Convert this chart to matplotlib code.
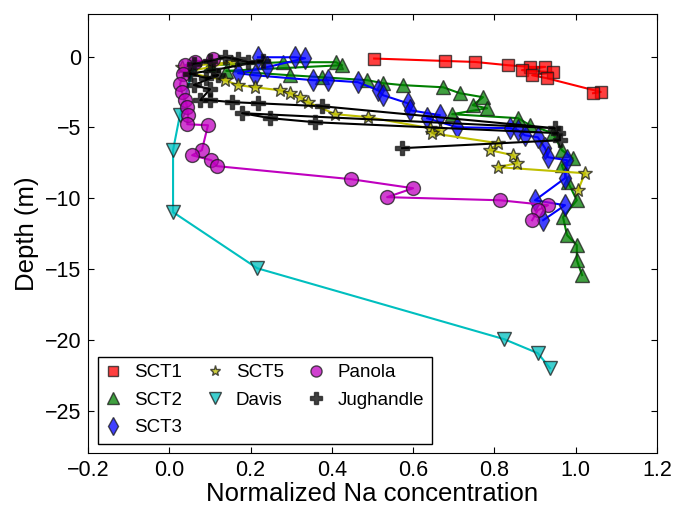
# -*- coding: utf-8 -*-
import numpy as np
import matplotlib
matplotlib.use('Agg')
import matplotlib.pyplot as plt
from matplotlib.lines import Line2D

# normalized Na vs depth, one profile per site
sct1_x = [0.504, 0.678, 0.752, 0.833, 0.888, 0.925, 0.868, 0.944, 0.893, 0.929, 1.062, 1.043]
sct1_y = [-0.13, -0.30, -0.37, -0.60, -0.72, -0.72, -0.95, -1.10, -1.31, -1.52, -2.49, -2.58]

sct2_x = [0.10, 0.28, 0.41, 0.425, 0.14, 0.297, 0.376, 0.487, 0.526, 0.575, 0.674, 0.715, 0.772,
          0.747, 0.782, 0.696, 0.858, 0.888, 0.944, 0.966, 0.993, 0.966, 0.981, 1.003, 0.969,
          0.979, 1.003, 1.003, 1.016]
sct2_y = [-0.6, -0.39, -0.39, -0.60, -1.0, -1.31, -1.45, -1.66, -1.87, -2.01, -2.16, -2.58, -2.86,
          -3.43, -3.64, -4.06, -4.34, -4.84, -5.40, -6.60, -7.17, -7.66, -8.86, -10.14, -11.34,
          -12.61, -13.31, -14.37, -15.43]

sct3_x = [0.218, 0.309, 0.334, 0.240, 0.169, 0.211, 0.354, 0.391, 0.464, 0.514, 0.526, 0.587,
          0.592, 0.666, 0.634, 0.708, 0.838, 0.858, 0.875, 0.907, 0.925, 0.932, 0.979, 0.974,
          0.900, 0.974, 0.920]
sct3_y = [-0.04, -0.04, -0.11, -0.74, -1.17, -1.31, -1.66, -1.66, -1.80, -2.37, -2.72, -3.29,
          -3.78, -4.13, -4.34, -4.98, -5.05, -5.19, -5.55, -5.69, -6.46, -7.10, -7.31, -8.58,
          -10.14, -10.49, -11.55]

sct5_x = [0.03, 0.154, 0.04, 0.137, 0.169, 0.211, 0.272, 0.297, 0.322, 0.341, 0.408, 0.489,
          0.642, 0.666, 0.646, 0.809, 0.789, 0.846, 0.856, 0.809, 1.023, 1.006]
sct5_y = [-0.7, -0.39, -1.1, -1.66, -2.01, -2.16, -2.37, -2.58, -2.86, -3.21, -4.06, -4.27,
          -5.05, -5.19, -5.40, -6.11, -6.60, -6.96, -7.52, -7.80, -8.23, -9.43]

davis_x = [0.06, 0.026, 0.009, 0.009, 0.216, 0.824, 0.907, 0.937]
davis_y = [-0.7, -4.1, -6.6, -10.98, -14.94, -19.95, -20.94, -22.0]

panola_x = [0.108, 0.063, 0.039, 0.034, 0.026, 0.031, 0.039, 0.044, 0.046, 0.044, 0.095, 0.080,
            0.056, 0.103, 0.117, 0.447, 0.600, 0.536, 0.814, 0.932, 0.907, 0.893]
panola_y = [-0.18, -0.39, -0.60, -1.24, -1.95, -2.52, -3.07, -3.57, -4.13, -4.77, -4.84, -6.6,
            -6.96, -7.31, -7.73, -8.65, -9.29, -9.92, -10.14, -10.49, -10.84, -11.55]

jug_x = [0.06, 0.10, 0.137, 0.169, 0.194, 0.23, 0.108, 0.05, 0.09, 0.12, 0.06, 0.10, 0.076,
         0.10, 0.154, 0.218, 0.376, 0.949, 0.179, 0.248, 0.359, 0.957, 0.961, 0.573]
jug_y = [-0.5, -0.3, -0.04, -0.18, -0.39, -0.3, -0.95, -1.2, -1.5, -1.3, -2.0, -2.3, -3.07,
         -3.07, -3.21, -3.29, -3.5, -5.05, -3.99, -4.34, -4.63, -5.40, -5.90, -6.46]

names = ['SCT1', 'SCT2', 'SCT3', 'SCT5', 'Davis', 'Panola', 'Jughandle']
colors = ['r', 'g', 'b', 'y', 'c', 'm', 'k']
markers = ['s', '^', 'd', '*', 'v', 'o', 'P']
sizes = [9, 10, 11, 10, 10, 10, 10]
data = [(sct1_x, sct1_y), (sct2_x, sct2_y), (sct3_x, sct3_y), (sct5_x, sct5_y),
        (davis_x, davis_y), (panola_x, panola_y), (jug_x, jug_y)]

plt.rcParams['font.family'] = ['Liberation Sans', 'DejaVu Sans']
plt.rcParams['xtick.direction'] = 'in'
plt.rcParams['ytick.direction'] = 'in'
plt.rcParams['xtick.top'] = True
plt.rcParams['ytick.right'] = True
plt.rcParams['xtick.major.size'] = 4
plt.rcParams['ytick.major.size'] = 4

fig = plt.figure(figsize=(6.73, 5.08), dpi=100)
ax = fig.add_axes([0.131, 0.108, 0.845, 0.864])

handles = []
for (x, y), name, c, m, s in zip(data, names, colors, markers, sizes):
    rgba = matplotlib.colors.to_rgba(c, 0.75)
    ax.plot(x, y, '-', color=c, lw=1.5, marker=m, ms=s, mfc=rgba,
            mec=(0.1, 0.1, 0.1, 0.75), mew=1)
    handles.append(Line2D([], [], ls='none', marker=m, ms=s * 0.8, mfc=rgba,
                          mec=(0.1, 0.1, 0.1, 0.75), mew=1, label=name))

ax.set_xlim(-0.2, 1.2)
ax.set_ylim(-28, 3)
ax.set_xticks(np.arange(-0.2, 1.21, 0.2))
ax.set_yticks([0, -5, -10, -15, -20, -25])
ax.tick_params(labelsize=15.5, pad=5)
ax.set_xlabel('Normalized Na concentration', fontsize=18.5, labelpad=1)
ax.set_ylabel('Depth (m)', fontsize=18.5, labelpad=4)

leg = ax.legend(handles=handles, loc='lower left', ncol=3, numpoints=1, fontsize=13.5,
                fancybox=False, edgecolor='k', framealpha=1, handlelength=0.86,
                handletextpad=0.7, columnspacing=1.3, borderaxespad=0.5,
                borderpad=0.4, labelspacing=0.55)
leg.get_frame().set_linewidth(1.0)

fig.savefig('out.png', dpi=100)
